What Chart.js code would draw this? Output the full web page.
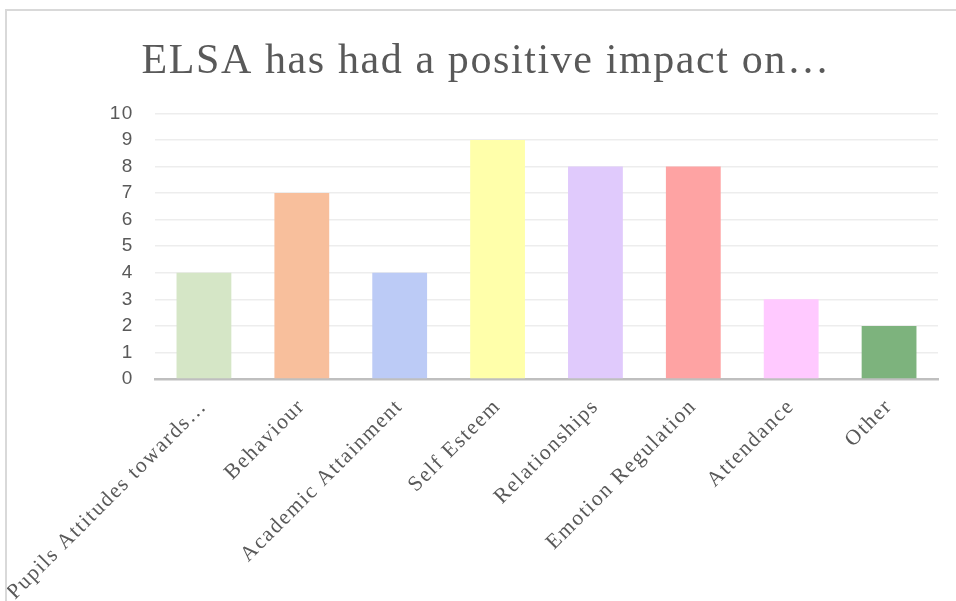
<!DOCTYPE html>
<html>
<head>
<meta charset="utf-8">
<script src="https://cdn.jsdelivr.net/npm/chart.js@4.4.1/dist/chart.umd.min.js"></script>
<style>
  html, body { margin: 0; padding: 0; background: #fff; }
  #wrap { position: relative; width: 956px; height: 601px; overflow: hidden; }
  #frame { position: absolute; left: 5px; top: 9px; width: 960px; height: 600px;
           border-top: 2px solid #d9d9d9; border-left: 2px solid #d9d9d9; pointer-events: none; }
  canvas { position: absolute; left: 0; top: 0; }
</style>
</head>
<body>
<div id="wrap">
  <canvas id="myChart" width="956" height="601"></canvas>
  <div id="frame"></div>
</div>
<script>
// categories and values
const categories = ['Pupils Attitudes towards…', 'Behaviour', 'Academic Attainment', 'Self Esteem',
                    'Relationships', 'Emotion Regulation', 'Attendance', 'Other'];
const responses = [4, 7, 4, 9, 8, 8, 3, 2];
const barColours = ['#d5e6c6', '#f8bf9c', '#bccbf6', '#ffffaa', '#e0cafc', '#fea3a3', '#ffc9ff', '#7db37d'];
const titleText = 'ELSA has had a positive impact on…';

// the original text is set a little wide, so space the letters out
const spacing = {
    id: 'spacing',
    beforeDraw(chart) {
        chart.ctx.letterSpacing = '1.6px';
    }
};

const ctx = document.getElementById('myChart').getContext('2d');
const myChart = new Chart(ctx, {
    type: 'bar',
    data: {
        labels: categories,
        datasets: [{
            data: responses,
            backgroundColor: barColours,
            borderWidth: 0,
            barPercentage: 0.56,
            categoryPercentage: 1
        }]
    },
    options: {
        responsive: false,
        animation: false,
        layout: { padding: { left: 34, right: 18, top: 0, bottom: 0 } },
        scales: {
            x: {
                grid: { display: false, drawTicks: false },
                border: { display: true, color: '#bfbfbf', width: 2.5 },
                ticks: {
                    color: '#595959',
                    font: { family: '"Liberation Serif", serif', size: 21.5 },
                    minRotation: 45,
                    maxRotation: 45,
                    padding: 15,
                    autoSkip: false
                },
                afterFit: s => { s.height = 222; }
            },
            y: {
                min: 0,
                max: 10,
                grid: { color: '#ededed', lineWidth: 1.5, drawTicks: false },
                border: { display: false },
                ticks: {
                    stepSize: 1,
                    color: '#595959',
                    font: { family: '"Liberation Sans", sans-serif', size: 19 },
                    padding: 21
                },
                afterFit: s => { s.width = 121; }
            }
        },
        plugins: {
            legend: { display: false },
            tooltip: { enabled: false },
            title: {
                display: true,
                text: titleText,
                color: '#595959',
                font: { family: '"Liberation Serif", serif', size: 42, weight: 'normal' },
                padding: { top: 37, bottom: 26 }
            }
        }
    },
    plugins: [spacing]
});
</script>
</body>
</html>
